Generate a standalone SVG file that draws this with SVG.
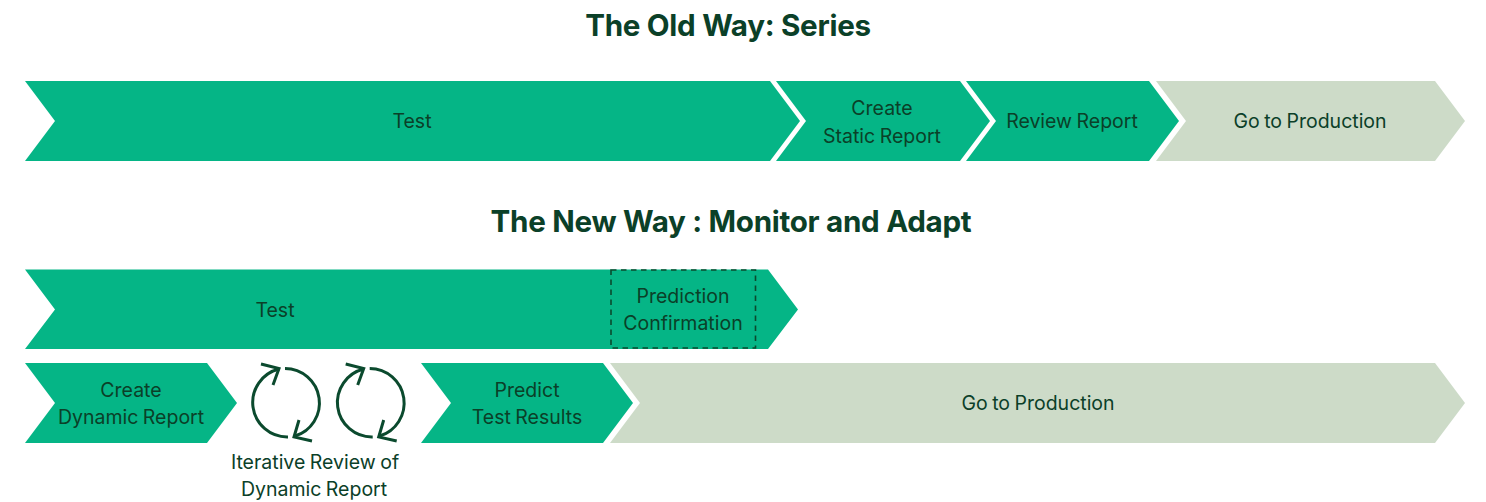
<svg xmlns="http://www.w3.org/2000/svg" width="1486" height="502" viewBox="0 0 1486 502">
<style>
.g{fill:#05b586}.s{fill:#cddbc8}
text{font-family:"Inter","Liberation Sans",sans-serif;fill:#0b4028;text-anchor:middle}
.t{font-size:19.5px;word-spacing:-1px}
.h{font-size:29.6px;font-weight:700;letter-spacing:-0.3px}
.d{fill:none;stroke:#0b4a2e;stroke-width:1.6;stroke-dasharray:5.5 4.5}
.c{fill:none;stroke:#0b4a2e;stroke-width:3}
</style>
<defs>
<g id="loop">
<path class="c" d="M279,369 A34.5,34.5 0 0 0 288,437"/>
<path class="c" d="M285,368.5 A34.5,34.5 0 0 1 295,436"/>
<path class="c" d="M261,364 L279,368.5 L273,385 M299,420 L294,437 L312,441"/>
</g>
</defs>
<g id="title-old"><text class="h" x="728" y="36">The Old Way: Series</text></g>
<g id="old-test"><polygon class="g" points="25,81 770,81 800,121 770,161 25,161 55,121"/><text class="t" x="412" y="128">Test</text></g>
<g id="old-create"><polygon class="g" points="776,81 960,81 990,121 960,161 776,161 806,121"/><text class="t" x="882" y="114.5">Create</text><text class="t" x="882" y="142.5">Static Report</text></g>
<g id="old-review"><polygon class="g" points="966,81 1149,81 1179,121 1149,161 966,161 996,121"/><text class="t" x="1072" y="128">Review Report</text></g>
<g id="old-prod"><polygon class="s" points="1156,81 1435,81 1465,121 1435,161 1156,161 1186,121"/><text class="t" x="1310" y="128">Go to Production</text></g>
<g id="title-new"><text class="h" x="731" y="232">The New Way : Monitor and Adapt</text></g>
<g id="new-test"><polygon class="g" points="25,269.5 768,269.5 798,309.5 768,349 25,349 55,309.5"/><text class="t" x="275" y="317">Test</text></g>
<g id="new-confirm"><rect class="d" x="611" y="270" width="144.5" height="78"/><text class="t" x="683" y="303">Prediction</text><text class="t" x="683" y="330">Confirmation</text></g>
<g id="new-create"><polygon class="g" points="25,363 207,363 237,403 207,443 25,443 55,403"/><text class="t" x="131" y="396.5">Create</text><text class="t" x="131" y="423.5">Dynamic Report</text></g>
<g id="loop-1"><use href="#loop"/></g>
<g id="loop-2"><use href="#loop" x="84.7"/></g>
<g id="new-predict"><polygon class="g" points="421,363 603,363 633,403 603,443 421,443 451,403"/><text class="t" x="527" y="396.5">Predict</text><text class="t" x="527" y="423.5">Test Results</text></g>
<g id="new-prod"><polygon class="s" points="610,363 1435,363 1465,403 1435,443 610,443 640,403"/><text class="t" x="1038" y="410">Go to Production</text></g>
<g id="loop-label"><text class="t" x="315" y="468.5">Iterative Review of</text><text class="t" x="314" y="495.5">Dynamic Report</text></g>
</svg>
